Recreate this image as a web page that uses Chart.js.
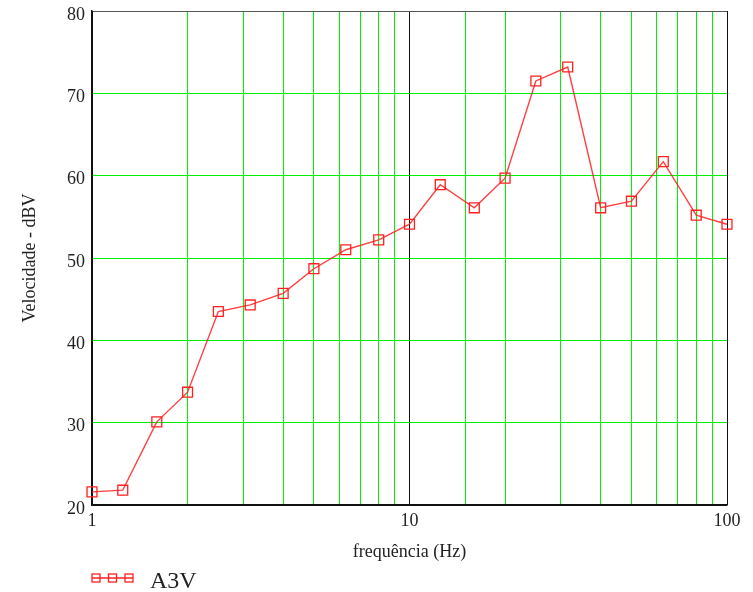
<!DOCTYPE html>
<html>
<head>
<meta charset="utf-8">
<script src="https://cdn.jsdelivr.net/npm/chart.js@4"></script>
<style>
  html, body { margin: 0; padding: 0; background: #fff; }
  #wrap { width: 753px; height: 592px; }
</style>
</head>
<body>
<div id="wrap"><canvas id="myChart"></canvas></div>
<script>
    // frequências de 1/3 de oitava (Hz)
    const freqs = [1, 1.25, 1.6, 2, 2.5, 3.15, 4, 5, 6.3, 8, 10, 12.5, 16, 20, 25, 31.5, 40, 50, 63, 80, 100];
    // velocidade em dBV
    const a3v = [21.6, 21.8, 30.1, 33.7, 43.5, 44.3, 45.7, 48.7, 51.0, 52.2, 54.1, 58.9, 56.1, 59.7, 71.5, 73.2, 56.1, 56.9, 61.7, 55.2, 54.1];
    const xLabels = [1, 10, 100];
    const yTicks = [20, 30, 40, 50, 60, 70, 80];

    const serif = 'Liberation Serif';
    const red = '#ff2020';

    // legenda desenhada à mão (linha com três quadrados)
    const legendPlugin = {
      id: 'mcadLegend',
      afterDraw(chart) {
        const ctx = chart.ctx;
        const ds = chart.data.datasets[0];
        const y = 578;
        ctx.save();
        ctx.strokeStyle = red;
        ctx.lineWidth = 1.3;
        ctx.beginPath();
        ctx.moveTo(92, y);
        ctx.lineTo(133, y);
        ctx.stroke();
        [96, 112.5, 129].forEach(cx => {
          ctx.strokeRect(cx - 4, y - 4, 8, 8);
        });
        ctx.fillStyle = '#222';
        ctx.font = '24px "' + serif + '"';
        ctx.textBaseline = 'alphabetic';
        ctx.fillText(ds.label, 150, 588);
        ctx.restore();
      }
    };

    const config = {
      type: 'line',
      data: {
        datasets: [{
          label: 'A3V',
          data: freqs.map((f, i) => ({ x: f, y: a3v[i] })),
          borderColor: 'rgba(255,30,30,0.85)',
          borderWidth: 1.4,
          pointStyle: 'rect',
          pointRadius: 7,
          pointBorderWidth: 1.3,
          pointBorderColor: red,
          pointBackgroundColor: 'rgba(0,0,0,0)',
          tension: 0,
          clip: false
        }]
      },
      options: {
        responsive: true,
        maintainAspectRatio: false,
        animation: false,
        layout: { padding: { top: 11, right: 26, bottom: 0, left: 0 } },
        plugins: {
          legend: { display: false },
          tooltip: { enabled: false }
        },
        scales: {
          x: {
            type: 'logarithmic',
            min: 1,
            max: 100,
            afterFit: (s) => { s.height = 87; s.paddingLeft = 0; s.paddingRight = 0; },
            border: { color: '#111', width: 1.5 },
            grid: {
              drawTicks: false,
              lineWidth: 1,
              color: (c) => {
                const v = c.tick ? c.tick.value : 0;
                return Math.abs(Math.log10(v) % 1) < 1e-9 ? '#111' : '#00f000';
              }
            },
            ticks: {
              autoSkip: false,
              maxRotation: 0,
              padding: 5,
              color: '#222',
              font: { family: serif, size: 18 },
              callback: (value) => xLabels.includes(value) ? String(value) : ''
            },
            title: {
              display: true,
              text: 'frequência (Hz)',
              color: '#222',
              font: { family: serif, size: 18 },
              padding: { top: 0, bottom: 29 }
            }
          },
          y: {
            min: 20,
            max: 80,
            afterFit: (s) => { s.width = 92; s.paddingTop = 0; s.paddingBottom = 0; },
            afterBuildTicks: (s) => { s.ticks = yTicks.map(v => ({ value: v })); },
            border: { color: '#111', width: 1.5 },
            grid: {
              drawTicks: false,
              lineWidth: 1,
              color: (c) => {
                const v = c.tick ? c.tick.value : 0;
                if (v === 80) return '#555';
                if (v === 20) return '#111';
                return '#00f000';
              }
            },
            ticks: {
              padding: 7,
              labelOffset: 4,
              color: '#222',
              font: { family: serif, size: 18 }
            },
            title: {
              display: true,
              text: 'Velocidade - dBV',
              color: '#222',
              font: { family: serif, size: 18 },
              padding: { top: 19, bottom: 0 }
            }
          }
        }
      },
      plugins: [legendPlugin]
    };

    const myChart = new Chart(document.getElementById('myChart'), config);
</script>
</body>
</html>
